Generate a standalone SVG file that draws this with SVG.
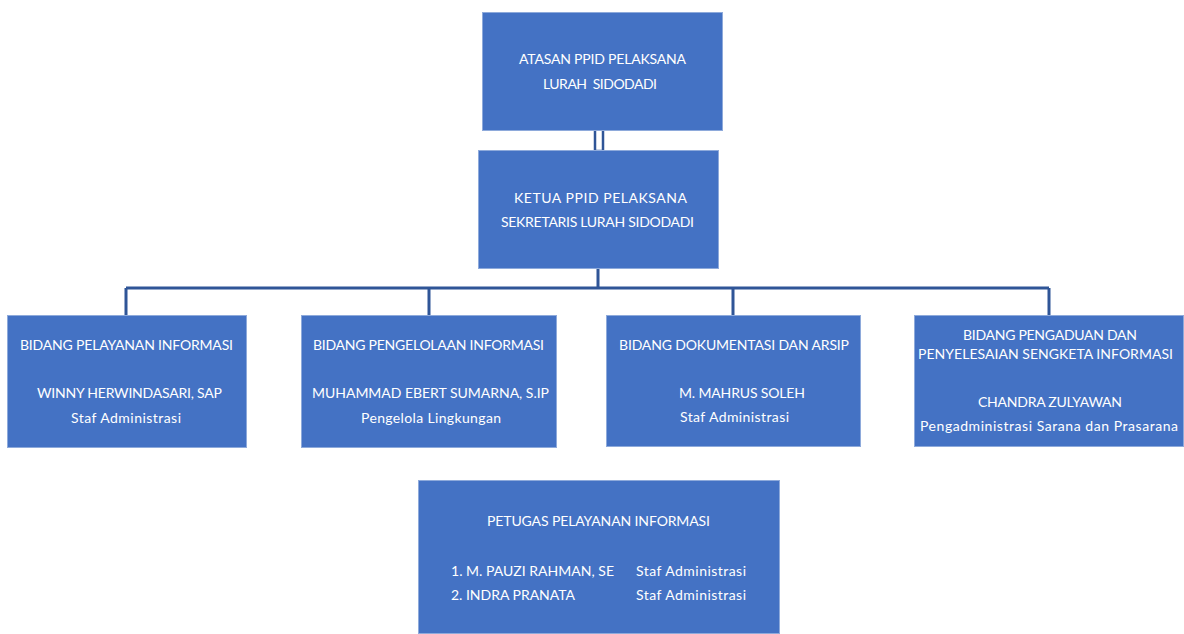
<svg xmlns="http://www.w3.org/2000/svg" width="1184" height="634" viewBox="0 0 1184 634">
<style>
.box{fill:#4472c4;stroke:#8eaadb;stroke-width:1}
text{font-family:Lato,"Open Sans","Liberation Sans",sans-serif;font-size:14px;fill:#ffffff}
.ln{stroke:#2f5597;stroke-width:3;fill:none}
</style>
<rect width="1184" height="634" fill="#ffffff"/>
<g id="connectors">
<rect x="595" y="129" width="8" height="22" fill="#ffffff" stroke="#2f5597" stroke-width="2.5"/>
<path class="ln" d="M598 268V288M126 288H1049M126 288V315M429 288V315M733 288V315M1049 288V315"/>
</g>
<g id="atasan">
<rect class="box" x="482.5" y="12.5" width="240" height="118"/>
<text x="519" y="64" textLength="167">ATASAN PPID PELAKSANA</text>
<text x="543" y="89" textLength="114" xml:space="preserve">LURAH  SIDODADI</text>
</g>
<g id="ketua">
<rect class="box" x="478.5" y="150.5" width="240" height="118"/>
<text x="514" y="203" textLength="173">KETUA PPID PELAKSANA</text>
<text x="501" y="227" textLength="193">SEKRETARIS LURAH SIDODADI</text>
</g>
<g id="bidang-pelayanan">
<rect class="box" x="7.5" y="315.5" width="239" height="132"/>
<text x="20" y="350" textLength="213">BIDANG PELAYANAN INFORMASI</text>
<text x="37" y="398" textLength="185">WINNY HERWINDASARI, SAP</text>
<text x="71" y="423" textLength="110">Staf Administrasi</text>
</g>
<g id="bidang-pengelolaan">
<rect class="box" x="301.5" y="315.5" width="255" height="132"/>
<text x="313" y="350" textLength="231">BIDANG PENGELOLAAN INFORMASI</text>
<text x="312" y="398" textLength="237">MUHAMMAD EBERT SUMARNA, S.IP</text>
<text x="361" y="423" textLength="140">Pengelola Lingkungan</text>
</g>
<g id="bidang-dokumentasi">
<rect class="box" x="606.5" y="315.5" width="254" height="131"/>
<text x="619" y="350" textLength="230">BIDANG DOKUMENTASI DAN ARSIP</text>
<text x="679" y="398" textLength="126">M. MAHRUS SOLEH</text>
<text x="680" y="422" textLength="109">Staf Administrasi</text>
</g>
<g id="bidang-pengaduan">
<rect class="box" x="914.5" y="315.5" width="269" height="131"/>
<text x="963" y="340" textLength="174">BIDANG PENGADUAN DAN</text>
<text x="918" y="359" textLength="255">PENYELESAIAN SENGKETA INFORMASI</text>
<text x="978" y="407" textLength="144">CHANDRA ZULYAWAN</text>
<text x="920" y="431" textLength="258">Pengadministrasi Sarana dan Prasarana</text>
</g>
<g id="petugas">
<rect class="box" x="418.5" y="480.5" width="361" height="153"/>
<text x="487" y="526" textLength="223">PETUGAS PELAYANAN INFORMASI</text>
<text x="451" y="576" textLength="163">1. M. PAUZI RAHMAN, SE</text>
<text x="636" y="576" textLength="110">Staf Administrasi</text>
<text x="451" y="600" textLength="124">2. INDRA PRANATA</text>
<text x="636" y="600" textLength="110">Staf Administrasi</text>
</g>
</svg>
